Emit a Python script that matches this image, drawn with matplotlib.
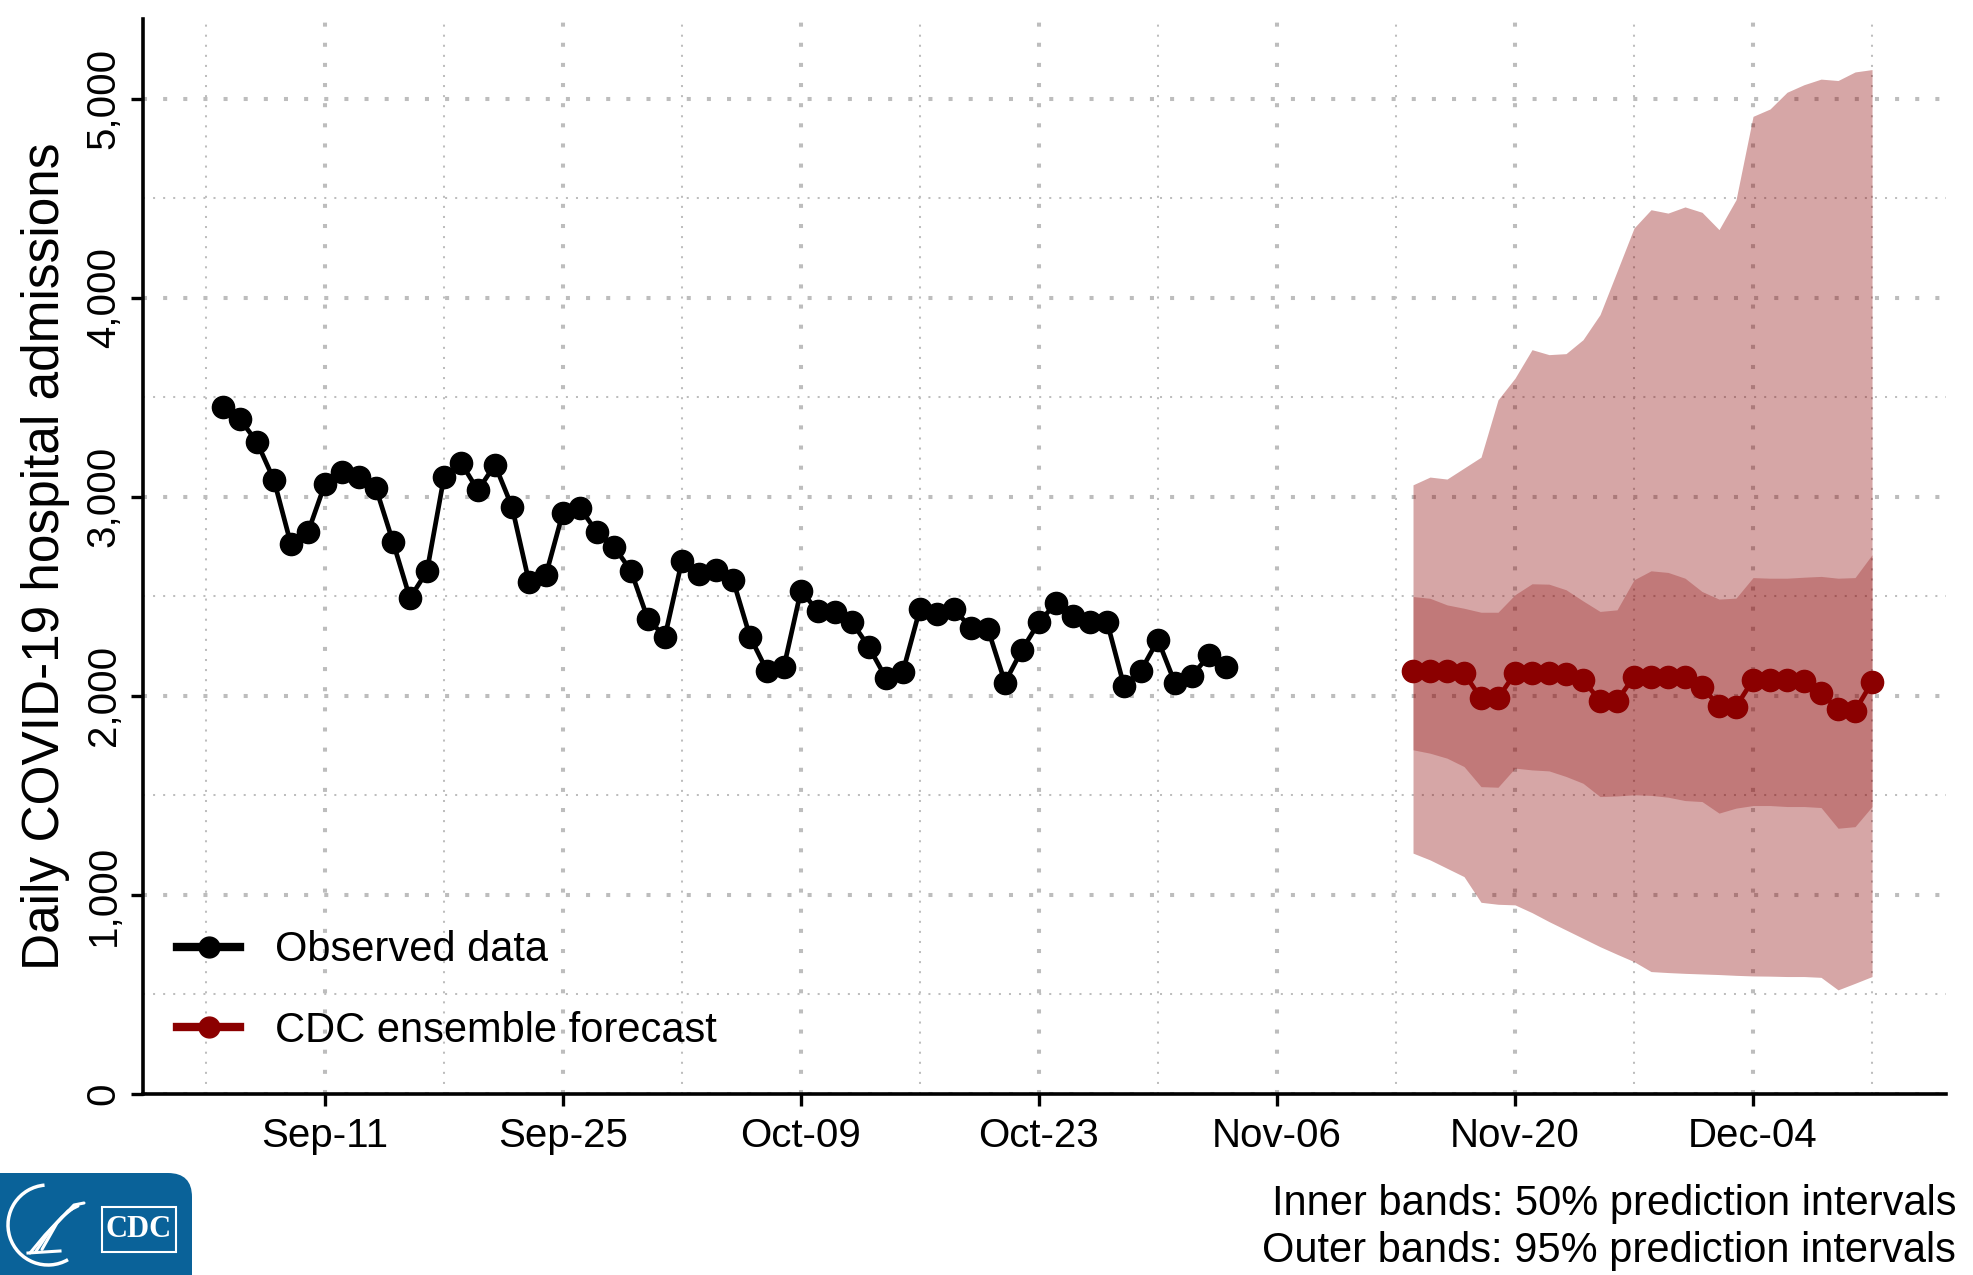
#!/usr/bin/env python3
"""
Daily COVID-19 hospital admissions: observed data and CDC ensemble forecast
"""

import matplotlib
matplotlib.use('Agg')
import matplotlib.pyplot as plt
import matplotlib.dates as mdates
import matplotlib.ticker as mticker
from matplotlib.patches import FancyBboxPatch, Rectangle, Arc
from matplotlib.lines import Line2D
import pandas as pd

plt.rcParams['font.family'] = ['Liberation Sans', 'DejaVu Sans']

# observed daily admissions, Sep-05 .. Nov-03
obs_dates = pd.date_range('2022-09-05', '2022-11-03', freq='D')
observed = [3451, 3390, 3275, 3085, 2762, 2821, 3064, 3124, 3099, 3044,
            2774, 2491, 2625, 3097, 3172, 3032, 3161, 2951, 2574, 2608,
            2921, 2946, 2821, 2750, 2628, 2385, 2298, 2678, 2611, 2633,
            2583, 2298, 2126, 2147, 2529, 2424, 2419, 2370, 2245, 2089,
            2122, 2437, 2412, 2436, 2340, 2335, 2067, 2231, 2370, 2466,
            2399, 2370, 2373, 2050, 2127, 2281, 2064, 2102, 2203, 2147]

# ensemble forecast, Nov-14 .. Dec-11
fc_dates = pd.date_range('2022-11-14', '2022-12-11', freq='D')
forecast = [2126, 2126, 2126, 2114, 1988, 1988, 2114, 2114, 2114, 2111,
            2080, 1975, 1975, 2097, 2097, 2097, 2094, 2042, 1951, 1946,
            2080, 2080, 2080, 2077, 2013, 1933, 1925, 2069]
pi50_upper = [2499, 2490, 2457, 2440, 2420, 2420, 2508, 2563, 2561, 2533,
              2477, 2424, 2432, 2583, 2628, 2620, 2591, 2524, 2486, 2491,
              2594, 2591, 2591, 2596, 2600, 2591, 2594, 2709]
pi50_lower = [1729, 1712, 1687, 1645, 1544, 1541, 1637, 1628, 1623, 1595,
              1561, 1494, 1497, 1503, 1500, 1491, 1474, 1469, 1411, 1436,
              1449, 1449, 1444, 1444, 1439, 1335, 1343, 1444]
pi95_upper = [3060, 3099, 3089, 3144, 3199, 3487, 3596, 3739, 3714, 3719,
              3789, 3915, 4132, 4350, 4442, 4425, 4456, 4429, 4342, 4492,
              4911, 4948, 5032, 5070, 5098, 5091, 5134, 5146]
pi95_lower = [1210, 1176, 1134, 1092, 963, 953, 950, 911, 866, 824,
              782, 740, 702, 665, 615, 610, 606, 603, 600, 596,
              593, 592, 590, 590, 586, 523, 556, 590]

y_ticks = [0, 1000, 2000, 3000, 4000, 5000]
legend_labels = ['Observed data', 'CDC ensemble forecast']
caption = ['Inner bands: 50% prediction intervals',
           'Outer bands: 95% prediction intervals']

FC_COLOR = '#8B0000'
GRID_COLOR = '#BDBDBD'


def draw_logo(fig):
    """简化的 HHS/CDC 标志"""
    lax = fig.add_axes([0, 0, 192 / 1973, 102 / 1275])
    lax.set_xlim(0, 192)
    lax.set_ylim(0, 102)
    lax.axis('off')
    lax.add_patch(FancyBboxPatch((-40, -40), 232, 142,
                                 boxstyle='round,pad=0,rounding_size=24',
                                 facecolor='#0A6299', edgecolor='none'))
    # eagle seal
    lax.add_patch(Arc((48, 50), 80, 80, theta1=95, theta2=300,
                      color='white', lw=2.5))
    for dx in (0, 6, 12):
        lax.plot([30 + dx, 45 + dx, 62 + dx, 72 + dx],
                 [22 + dx * 0.3, 40 + dx, 58 + dx, 66 + dx * 0.5],
                 color='white', lw=2.2, solid_capstyle='round')
    lax.plot([28, 60], [22, 24], color='white', lw=2.2)
    # CDC box
    lax.add_patch(Rectangle((102, 23), 74, 45, facecolor='none',
                            edgecolor='white', lw=1.5))
    lax.text(139, 45.5, 'CDC', color='white', fontsize=22, weight='bold',
             family='Liberation Serif', ha='center', va='center')


def create_chart():
    fig = plt.figure(figsize=(19.73, 12.75), dpi=100)
    ax = fig.add_axes([143 / 1973, 1 - 1094 / 1275, 1803 / 1973, 1075 / 1275])

    # 预测区间
    ax.fill_between(fc_dates, pi95_lower, pi95_upper, color=FC_COLOR,
                    alpha=0.35, lw=0, zorder=2)
    ax.fill_between(fc_dates, pi50_lower, pi50_upper, color=FC_COLOR,
                    alpha=0.27, lw=0, zorder=2)

    ax.plot(obs_dates, observed, color='black', lw=3.4, marker='o',
            markersize=16, zorder=4)
    ax.plot(fc_dates, forecast, color=FC_COLOR, lw=3.4, marker='o',
            markersize=16, zorder=4)

    # axes limits
    ref = mdates.date2num(pd.Timestamp('2022-09-11'))
    ax.set_xlim(ref - 10.7, ref + 95.35)
    ax.set_ylim(0, 5400)

    major_dates = pd.date_range('2022-09-11', '2022-12-04', freq='14D')
    minor_dates = pd.date_range('2022-09-04', '2022-12-11', freq='14D')
    ax.set_xticks(mdates.date2num(major_dates))
    ax.set_xticks(mdates.date2num(minor_dates), minor=True)
    ax.xaxis.set_major_formatter(mdates.DateFormatter('%b-%d'))

    ax.set_yticks(y_ticks)
    ax.yaxis.set_minor_locator(mticker.MultipleLocator(500))
    ax.yaxis.set_major_formatter(mticker.FuncFormatter(lambda v, p: f'{int(v):,}'))

    ax.grid(which='major', color=GRID_COLOR, lw=2.9, linestyle=(0, (1, 4)))
    ax.grid(which='minor', color=GRID_COLOR, lw=1.45, linestyle=(0, (1, 4)))
    ax.set_axisbelow(True)

    for side in ('top', 'right'):
        ax.spines[side].set_visible(False)
    for side in ('left', 'bottom'):
        ax.spines[side].set_linewidth(2.6)

    ax.tick_params(which='major', length=8.5, width=2.4, labelsize=29)
    ax.tick_params(axis='x', pad=8)
    ax.tick_params(axis='y', pad=6)
    ax.tick_params(which='minor', length=0)
    for lbl in ax.get_yticklabels():
        lbl.set_rotation(90)
        lbl.set_va('center')

    ax.set_ylabel('Daily COVID-19 hospital admissions', fontsize=37, labelpad=11)

    handles = [Line2D([], [], color='black', lw=6, marker='o', markersize=15),
               Line2D([], [], color=FC_COLOR, lw=6, marker='o', markersize=15)]
    ax.legend(handles, legend_labels, loc='lower left',
              bbox_to_anchor=(0.019, 0.04), frameon=False, fontsize=30,
              handlelength=1.5, handletextpad=0.85, labelspacing=0.98,
              borderpad=0, borderaxespad=0)

    fig.text(0.9915, 0.0557, caption[0], ha='right', va='center', fontsize=30)
    fig.text(0.9915, 0.0188, caption[1], ha='right', va='center', fontsize=30)

    draw_logo(fig)

    fig.savefig('out.png', dpi=100, facecolor='white')


if __name__ == "__main__":
    create_chart()
